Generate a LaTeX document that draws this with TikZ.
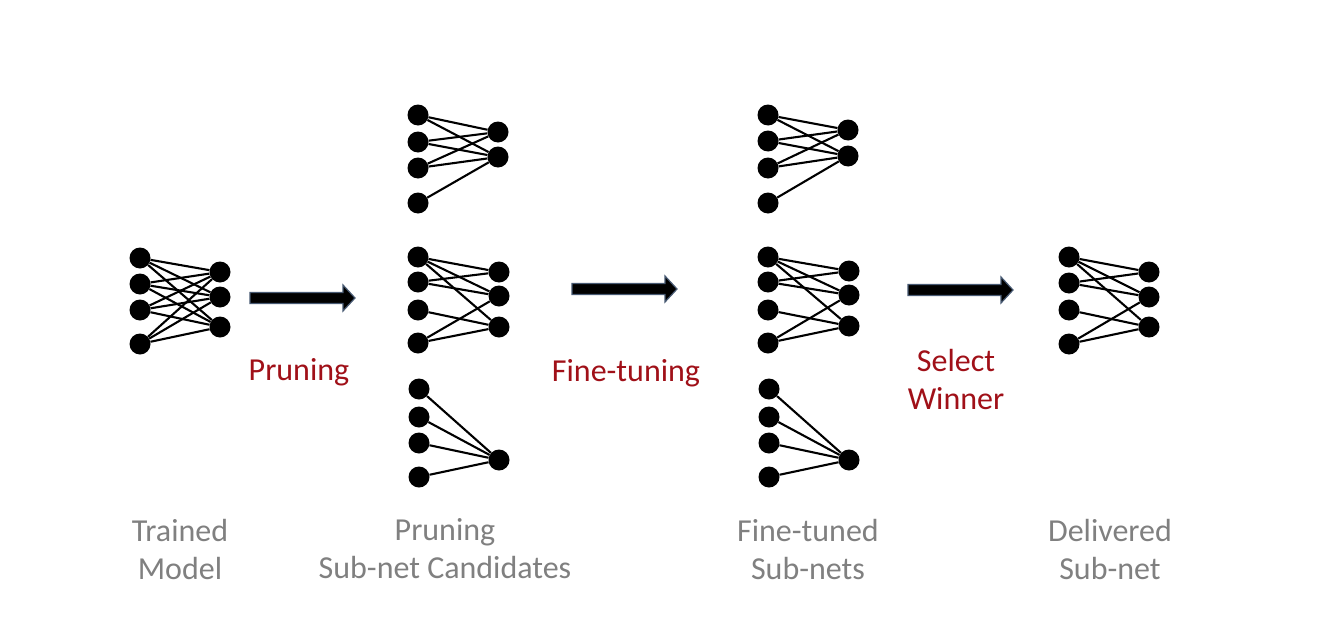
\documentclass[tikz,border=0pt]{standalone}
\usepackage{fontspec}
\setmainfont{Carlito}
\definecolor{redlab}{RGB}{160,16,24}
\definecolor{graylab}{RGB}{128,128,128}
\definecolor{arrowedge}{RGB}{72,90,115}
\begin{document}
\begin{tikzpicture}[x=1pt,y=-1pt,
  neuron/.style={circle,fill=black,inner sep=0pt,minimum size=21pt},
  syn/.style={line width=2.1pt},
  redtext/.style={text=redlab,font=\fontsize{32}{38}\selectfont,align=center},
  graytext/.style={text=graylab,font=\fontsize{32}{38}\selectfont,align=center},
  blockarrow/.style={fill=black,draw=arrowedge,line width=1.2pt,line join=miter}]
\useasboundingbox (0,0) rectangle (1325,637);
\fill[white] (0,0) rectangle (1325,637);

% Trained model
\foreach \i/\y in {1/258,2/284,3/310,4/344} \node[neuron] (A-i\i) at (140,\y) {};
\foreach \j/\y in {1/272,2/297,3/327} \node[neuron] (A-o\j) at (220,\y) {};
\foreach \i in {1,...,4} \foreach \j in {1,2,3} \draw[syn] (A-i\i) -- (A-o\j);

% Pruning candidates: top
\foreach \i/\y in {1/115,2/142,3/168,4/203} \node[neuron] (P1-i\i) at (418,\y) {};
\foreach \j/\y in {1/132,2/157} \node[neuron] (P1-o\j) at (498,\y) {};
\foreach \i/\j in {1/1,1/2,2/1,2/2,3/1,3/2,4/2} \draw[syn] (P1-i\i) -- (P1-o\j);

% Pruning candidates: middle
\foreach \i/\y in {1/257,2/282,3/310,4/343} \node[neuron] (P2-i\i) at (418,\y) {};
\foreach \j/\y in {1/272,2/296,3/327} \node[neuron] (P2-o\j) at (499,\y) {};
\foreach \i/\j in {1/1,1/2,1/3,2/1,2/2,3/3,4/2,4/3} \draw[syn] (P2-i\i) -- (P2-o\j);

% Pruning candidates: bottom
\foreach \i/\y in {1/389,2/417,3/443,4/477} \node[neuron] (P3-i\i) at (419,\y) {};
\node[neuron] (P3-o1) at (499,460) {};
\foreach \i in {1,...,4} \draw[syn] (P3-i\i) -- (P3-o1);

% Fine-tuned: top
\foreach \i/\y in {1/115,2/141,3/168,4/203} \node[neuron] (F1-i\i) at (768,\y) {};
\foreach \j/\y in {1/130,2/156} \node[neuron] (F1-o\j) at (848,\y) {};
\foreach \i/\j in {1/1,1/2,2/1,2/2,3/1,3/2,4/2} \draw[syn] (F1-i\i) -- (F1-o\j);

% Fine-tuned: middle
\foreach \i/\y in {1/257,2/282,3/310,4/343} \node[neuron] (F2-i\i) at (768,\y) {};
\foreach \j/\y in {1/271,2/295,3/326} \node[neuron] (F2-o\j) at (849,\y) {};
\foreach \i/\j in {1/1,1/2,1/3,2/1,2/2,3/3,4/2,4/3} \draw[syn] (F2-i\i) -- (F2-o\j);

% Fine-tuned: bottom
\foreach \i/\y in {1/389,2/417,3/443,4/477} \node[neuron] (F3-i\i) at (769,\y) {};
\node[neuron] (F3-o1) at (849,460) {};
\foreach \i in {1,...,4} \draw[syn] (F3-i\i) -- (F3-o1);

% Delivered
\foreach \i/\y in {1/257,2/283,3/310,4/344} \node[neuron] (D-i\i) at (1069,\y) {};
\foreach \j/\y in {1/272,2/297,3/327} \node[neuron] (D-o\j) at (1149,\y) {};
\foreach \i/\j in {1/1,1/2,1/3,2/1,2/2,3/3,4/2,4/3} \draw[syn] (D-i\i) -- (D-o\j);

% Block arrows
\foreach \x/\y in {250/298,572/289,908/290}
  \draw[blockarrow] (\x,\y-5.5) -- (\x+93,\y-5.5) -- (\x+93,\y-13) -- (\x+105,\y)
    -- (\x+93,\y+13) -- (\x+93,\y+5.5) -- (\x,\y+5.5) -- cycle;

% Red labels
\node[redtext] (l1) at (299,372) {Pruning};
\node[redtext] (l2) at (626,373) {Fine-tuning};
\node[redtext] (l3) at (956,379) {Select\\Winner};

% Gray labels
\node[graytext] (g1) at (180,549) {Trained\\Model};
\node[graytext] (g2) at (445,549) {Pruning\\Sub-net Candidates};
\node[graytext] (g3) at (808,549) {Fine-tuned\\Sub-nets};
\node[graytext] (g4) at (1110,549) {Delivered\\Sub-net};
\end{tikzpicture}
\end{document}
